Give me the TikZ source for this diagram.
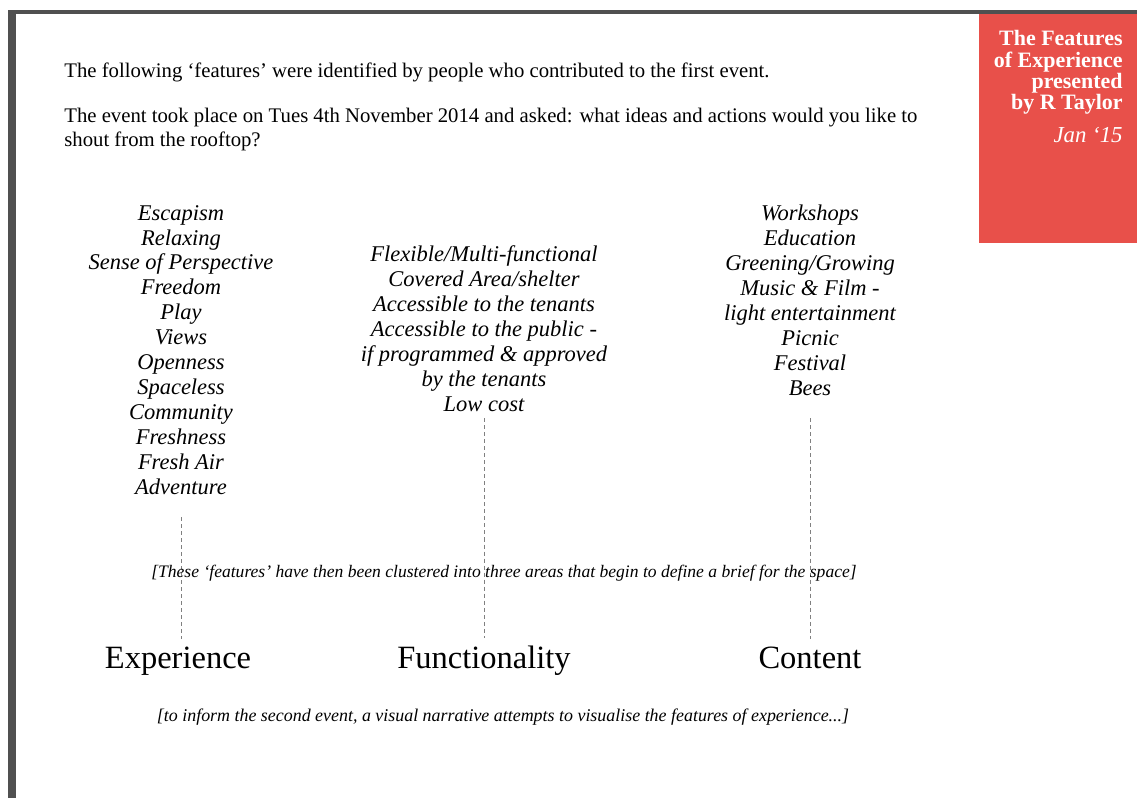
\documentclass[tikz,border=0pt]{standalone}
\usepackage{fontspec}
\setmainfont{Liberation Serif}
\usepackage{tikz}
\usepackage{xcolor}
\definecolor{framegray}{HTML}{505050}
\definecolor{titlered}{HTML}{E8504A}

\begin{document}
\begin{tikzpicture}[x=0.02cm, y=-0.02cm,
  intro/.style={anchor=north west, inner sep=0pt, align=left, font=\fontsize{11.8}{13.6}\selectfont},
  item/.style={inner sep=0pt, align=center, font=\fontsize{12.8}{14.2}\selectfont\itshape},
  note/.style={inner sep=0pt, font=\fontsize{10}{12}\selectfont\itshape},
  area/.style={anchor=base, inner sep=4pt, font=\fontsize{18.5}{22}\selectfont},
  guide/.style={gray, line width=0.5pt, dash pattern=on 2.3pt off 1.7pt}]
\useasboundingbox (0,0) rectangle (1137,798);
% Frame
\fill[white] (0,0) rectangle (1137,798);
\fill[framegray] (8,10) rectangle (1137,14);
\fill[framegray] (8,10) rectangle (16,798);
% Title box
\fill[titlered] (979,14) rectangle (1137,243);
\node[anchor=north east, inner sep=0pt, align=right, text=white, font=\fontsize{12.5}{12.2}\selectfont\bfseries] (title) at (1123,30) {The Features\\of Experience\\presented\\by R Taylor};
\node[anchor=base east, inner sep=0pt, text=white, font=\fontsize{13}{15}\selectfont\itshape] (date) at (1123,142) {Jan ‘15};

% Intro
\node[intro] (intro1) at (64,62.5) {The following ‘features’ were identified by people who contributed to the first event.};
\node[intro] (intro2) at (64,107.5) {The event took place on Tues 4th November 2014 and asked: what ideas and actions would you like to\\shout from the rooftop?};

% Features
\node[item] (exp list) at (181,350) {Escapism\\Relaxing\\Sense of Perspective\\Freedom\\Play\\Views\\Openness\\Spaceless\\Community\\Freshness\\Fresh Air\\Adventure};
\node[item] (func list) at (484,328.5) {Flexible/Multi-functional\\Covered Area/shelter\\Accessible to the tenants\\Accessible to the public -\\if programmed \& approved\\by the tenants\\Low cost};
\node[item] (cont list) at (810,300.5) {Workshops\\Education\\Greening/Growing\\Music \& Film -\\light entertainment\\Picnic\\Festival\\Bees};

% Areas
\node[area] (exp) at (178,668) {Experience};
\node[area] (func) at (484,668) {Functionality};
\node[area] (cont) at (810,668) {Content};
\coordinate (exp top) at (181,517);
\coordinate (func top) at (484,418);
\coordinate (cont top) at (810,418);
\draw[guide] (exp top) -- (exp top |- exp.north);
\draw[guide] (func top) -- (func top |- func.north);
\draw[guide] (cont top) -- (cont top |- cont.north);

% Notes
\node[note] (brief) at (504,573.5) {[These ‘features’ have then been clustered into three areas that begin to define a brief for the space]};
\node[note, font=\fontsize{10.2}{12}\selectfont\itshape] (next) at (503,717) {[to inform the second event, a visual narrative attempts to visualise the features of experience...]};
\end{tikzpicture}
\end{document}
